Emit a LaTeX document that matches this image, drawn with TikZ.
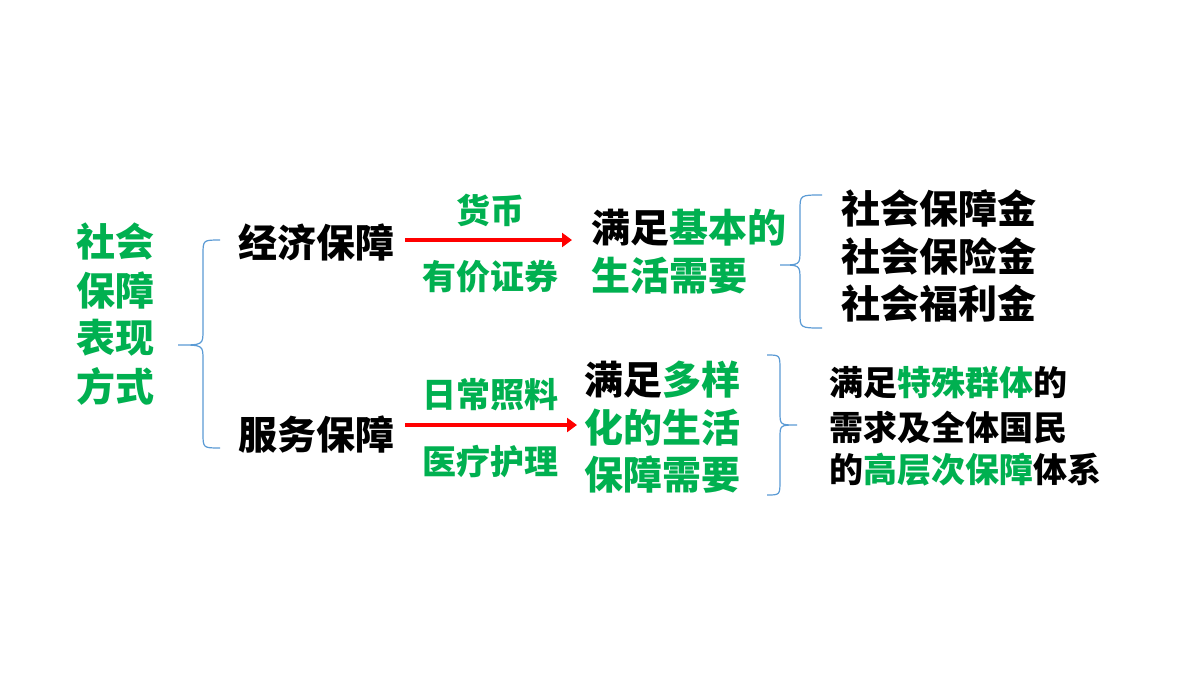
\documentclass[tikz,border=0pt]{standalone}
\usepackage{fontspec}
\newfontfamily\cjk{Noto Sans CJK SC}
\usetikzlibrary{arrows.meta}
\definecolor{gr}{HTML}{00B050}
\definecolor{br}{HTML}{5B9BD5}
\tikzset{
 big/.style={font=\cjk\bfseries\fontsize{39}{44}\selectfont,inner sep=0,anchor=west},
 mid/.style={font=\cjk\bfseries\fontsize{34}{38}\selectfont,inner sep=0,anchor=west},
 lab/.style={font=\cjk\bfseries\fontsize{34}{38}\selectfont,inner sep=0,text=gr},
 brc/.style={draw=br,line width=1.2pt},
 arr/.style={draw=red,line width=4pt,-{Triangle[length=10pt,width=14pt]}}
}
\begin{document}
\begin{tikzpicture}[x=1pt,y=-1pt]
\useasboundingbox (0,0) rectangle (1200,675);
\fill[white] (0,0) rectangle (1200,675);
\node[big,text=gr] (t1) at (76,242) {社会};
\node[big,text=gr] (t2) at (76,290) {保障};
\node[big,text=gr] (t3) at (76,338) {表现};
\node[big,text=gr] (t4) at (76,386) {方式};
\draw[brc] (220,240) .. controls (203,240) .. (203,255) -- (203,330) .. controls (203,345) .. (178,345)
  .. controls (203,345) .. (203,360) -- (203,433) .. controls (203,448) .. (220,448);
\node[big] (jj) at (238,242) {经济保障};
\node[big] (fw) at (238,435) {服务保障};
\coordinate (a1s) at (405,240); \coordinate (a1e) at (572,240);
\coordinate (a2s) at (405,425); \coordinate (a2e) at (577,425);
\draw[arr] (a1s) -- (a1e);
\draw[arr] (a2s) -- (a2e);
\node[lab] (hb) at (490,210) {货币};
\node[lab] (yj) at (490,277) {有价证券};
\node[lab] (rc) at (490,395) {日常照料};
\node[lab] (yl) at (490,462) {医疗护理};
\node[big] (m1) at (591,228) {满足\textcolor{gr}{基本的}};
\node[big,text=gr] (m2) at (591,276) {生活需要};
\draw[brc] (822,195) .. controls (800,195) .. (800,210) -- (800,250) .. controls (800,265) .. (780,265)
  .. controls (800,265) .. (800,280) -- (800,313) .. controls (800,328) .. (822,328);
\node[big] (r1) at (841,208) {社会保障金};
\node[big] (r2) at (841,256) {社会保险金};
\node[big] (r3) at (841,303) {社会福利金};
\node[big] (n1) at (584,380) {满足\textcolor{gr}{多样}};
\node[big,text=gr] (n2) at (584,428) {化的生活};
\node[big,text=gr] (n3) at (584,475) {保障需要};
\draw[brc] (767,355) .. controls (780,355) .. (780,370) -- (780,412) .. controls (780,425) .. (797,425)
  .. controls (780,425) .. (780,438) -- (780,480) .. controls (780,495) .. (767,495);
\node[mid] (s1) at (829,383) {满足\textcolor{gr}{特殊群体}的};
\node[mid] (s2) at (829,428) {需求及全体国民};
\node[mid] (s3) at (829,470) {的\textcolor{gr}{高层次保障}体系};
\end{tikzpicture}
\end{document}
